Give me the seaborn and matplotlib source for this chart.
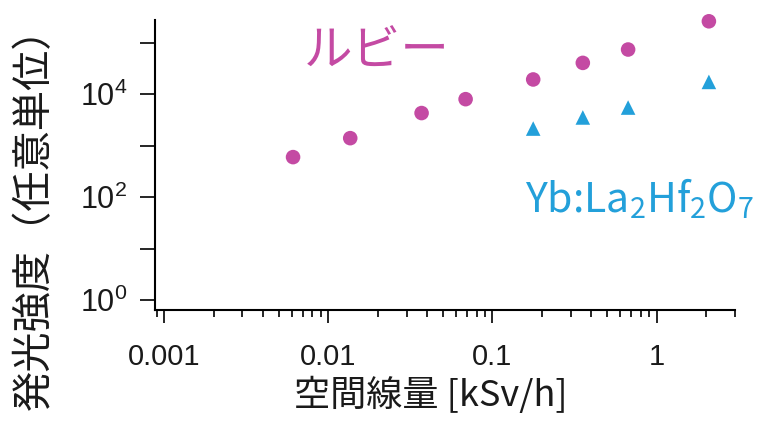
import numpy as np
import pandas as pd
import matplotlib
matplotlib.use("Agg")
import matplotlib.pyplot as plt
import matplotlib.ticker as mticker
import seaborn as sns

# Dose rate [kSv/h] and emission intensity (arb. units)
ruby_dose = [0.0061, 0.0136, 0.037, 0.0686, 0.177, 0.355, 0.67, 2.08]
ruby_intensity = [600, 1400, 4300, 8000, 19300, 40500, 73600, 260000]
yb_dose = [0.177, 0.355, 0.67, 2.08]
yb_intensity = [2150, 3530, 5500, 17300]

series_names = ["ルビー", "Yb:La$_2$Hf$_2$O$_7$"]
series_colors = ["#C44AA3", "#23A0DA"]

x_tick_values = [0.001, 0.01, 0.1, 1]
x_tick_labels = ["0.001", "0.01", "0.1", "1"]
y_tick_exponents = [0, 1, 2, 3, 4, 5]
y_label_exponents = [0, 2, 4]

x_label = "空間線量 [kSv/h]"
y_label = "発光強度（任意単位）"

df = pd.DataFrame({
    "dose": ruby_dose + yb_dose,
    "intensity": ruby_intensity + yb_intensity,
    "sample": [series_names[0]] * len(ruby_dose) + [series_names[1]] * len(yb_dose),
})

sns.set_theme(style="ticks")
plt.rcParams["font.family"] = ["Noto Sans CJK JP", "DejaVu Sans"]
plt.rcParams["mathtext.default"] = "regular"

fig = plt.figure(figsize=(7.59, 4.26), dpi=100)
ax = fig.add_axes([155 / 759, 1 - 310 / 426, 580 / 759, 290 / 426])

sns.scatterplot(
    data=df, x="dose", y="intensity", hue="sample", style="sample",
    palette=dict(zip(series_names, series_colors)),
    markers={series_names[0]: "o", series_names[1]: "^"},
    s=110, edgecolor="none", legend=False, ax=ax, clip_on=False,
)

ax.set_xscale("log")
ax.set_yscale("log")
ax.set_xlim(0.00088, 3.0)
ax.set_ylim(10 ** -0.19, 10 ** 5.44)

sns.despine(ax=ax)
for side in ("left", "bottom"):
    ax.spines[side].set_linewidth(1.5)
    ax.spines[side].set_color("black")

ax.xaxis.set_major_locator(mticker.FixedLocator(x_tick_values))
ax.xaxis.set_major_formatter(mticker.FixedFormatter(x_tick_labels))
ax.xaxis.set_minor_locator(mticker.LogLocator(base=10, subs=np.arange(2, 10)))
ax.xaxis.set_minor_formatter(mticker.NullFormatter())

y_ticks = [10.0 ** e for e in y_tick_exponents]
y_labels = [f"$10^{{{e}}}$" if e in y_label_exponents else "" for e in y_tick_exponents]
ax.yaxis.set_major_locator(mticker.FixedLocator(y_ticks))
ax.yaxis.set_major_formatter(mticker.FixedFormatter(y_labels))
ax.yaxis.set_minor_locator(mticker.NullLocator())

ax.tick_params(axis="x", which="major", length=9.5, width=1.2, pad=14,
               labelsize=21, color="black", labelcolor="#1a1a1a")
ax.tick_params(axis="x", which="minor", length=5, width=1.2, color="black")
ax.tick_params(axis="y", which="major", length=10.8, width=1.2, pad=9,
               labelsize=22, color="black", labelcolor="#1a1a1a")
for lab in ax.get_xticklabels() + ax.get_yticklabels():
    lab.set_fontfamily(["Liberation Sans", "DejaVu Sans"])

ax.set_xlabel(x_label, fontsize=26, color="#1a1a1a")
ax.set_ylabel(y_label, fontsize=29, color="#1a1a1a")
ax.xaxis.set_label_coords(0.476, -0.293)
ax.xaxis.label.set_verticalalignment("center")
ax.yaxis.set_label_coords(-0.207, 0.35)
ax.yaxis.label.set_verticalalignment("center")

ax.text(377 / 759, 1 - 52 / 426, series_names[0], transform=fig.transFigure,
        ha="center", va="center", fontsize=35, color=series_colors[0])
ax.text(525 / 759, 1 - 212 / 426, series_names[1], transform=fig.transFigure,
        ha="left", va="baseline", fontsize=29.5, color=series_colors[1])

fig.savefig("out.png", dpi=100)
